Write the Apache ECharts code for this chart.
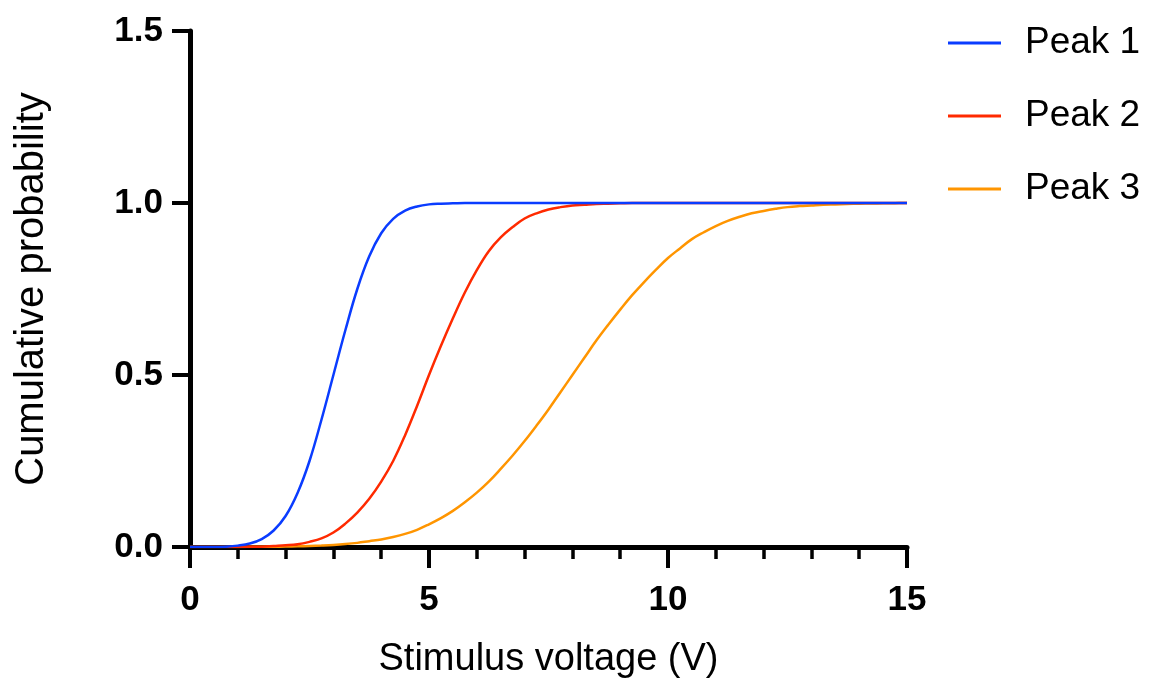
<!DOCTYPE html>
<html>
<head>
<meta charset="utf-8">
<title>Cumulative probability vs stimulus voltage</title>
<script src="https://cdn.jsdelivr.net/npm/echarts@6/dist/echarts.min.js"></script>
<style>
  html, body { margin: 0; padding: 0; background: #ffffff; }
  #chart { width: 1152px; height: 684px; }
</style>
</head>
<body>
<div id="chart"></div>
<script>
// Stimulus voltage samples (V), shared by all three curves
const volts = [
  0, 0.25, 0.5, 0.75, 1, 1.25, 1.5, 1.75, 2, 2.25, 2.5, 2.75,
  3, 3.25, 3.5, 3.75, 4, 4.25, 4.5, 4.75, 5, 5.25, 5.5, 5.75,
  6, 6.25, 6.5, 6.75, 7, 7.25, 7.5, 7.75, 8, 8.25, 8.5, 8.75,
  9, 9.25, 9.5, 9.75, 10, 10.25, 10.5, 10.75, 11, 11.25, 11.5, 11.75,
  12, 12.25, 12.5, 12.75, 13, 13.25, 13.5, 13.75, 14, 14.25, 14.5, 14.75, 15
];

// Cumulative probability for each peak at the voltages above
const peak1 = [
  0, 0, 0, 0.001, 0.004, 0.01, 0.023, 0.048, 0.09, 0.157, 0.25, 0.37,
  0.5, 0.63, 0.75, 0.845, 0.912, 0.954, 0.978, 0.99, 0.996, 0.998, 0.999, 1,
  1, 1, 1, 1, 1, 1, 1, 1, 1, 1, 1, 1,
  1, 1, 1, 1, 1, 1, 1, 1, 1, 1, 1, 1,
  1, 1, 1, 1, 1, 1, 1, 1, 1, 1, 1, 1, 1
];
const peak2 = [
  0, 0, 0, 0, 0.0003, 0.0006, 0.001, 0.003, 0.005, 0.008, 0.015, 0.025,
  0.042, 0.068, 0.1, 0.14, 0.19, 0.25, 0.325, 0.41, 0.5, 0.585, 0.665, 0.74,
  0.805, 0.86, 0.9, 0.93, 0.955, 0.97, 0.981, 0.988, 0.993, 0.995, 0.997, 0.998,
  0.999, 1, 1, 1, 1, 1, 1, 1, 1, 1, 1, 1,
  1, 1, 1, 1, 1, 1, 1, 1, 1, 1, 1, 1, 1
];
const peak3 = [
  0, 0, 0, 0.0001, 0.0002, 0.0004, 0.0006, 0.0009, 0.0013, 0.002, 0.003, 0.0043,
  0.006, 0.0085, 0.012, 0.017, 0.022, 0.029, 0.038, 0.05, 0.066, 0.084, 0.105, 0.13,
  0.158, 0.19, 0.227, 0.266, 0.308, 0.353, 0.4, 0.45, 0.5, 0.55, 0.6, 0.646,
  0.69, 0.732, 0.77, 0.806, 0.84, 0.868, 0.895, 0.915, 0.933, 0.948, 0.96, 0.97,
  0.977, 0.983, 0.988, 0.991, 0.993, 0.995, 0.996, 0.997, 0.998, 0.9985, 0.999, 0.9995, 1
];

const seriesNames = ['Peak 1', 'Peak 2', 'Peak 3'];
const seriesColors = ['#0a3cff', '#ff2a00', '#ff9500'];
const seriesValues = [peak1, peak2, peak3];

const FONT = '"Liberation Sans", Arial, Helvetica, sans-serif';

const chart = echarts.init(document.getElementById('chart'), null, { renderer: 'canvas' });

const series = seriesNames.map((name, i) => ({
  name: name,
  type: 'line',
  data: volts.map((v, k) => [v, seriesValues[i][k]]),
  showSymbol: false,
  symbol: 'none',
  smooth: 0.4,
  lineStyle: { color: seriesColors[i], width: 2.5 },
  itemStyle: { color: seriesColors[i] },
  z: 3 - i
}));

chart.setOption({
  backgroundColor: '#ffffff',
  animation: false,
  textStyle: { fontFamily: FONT },
  grid: { left: 190, right: 245, top: 31, bottom: 137, containLabel: false },
  legend: {
    orient: 'vertical',
    left: 943,
    top: 18,
    icon: 'rect',
    itemWidth: 53,
    itemHeight: 3,
    itemGap: 33,
    data: seriesNames,
    textStyle: {
      fontFamily: FONT,
      fontSize: 37,
      color: '#000000',
      lineHeight: 40,
      padding: [0, 0, 0, 19]
    }
  },
  xAxis: {
    type: 'value',
    min: 0,
    max: 15,
    interval: 5,
    name: 'Stimulus voltage (V)',
    nameLocation: 'middle',
    nameGap: 94,
    nameTextStyle: { fontFamily: FONT, fontSize: 38, color: '#000000' },
    axisLine: { show: true, onZero: false, lineStyle: { color: '#000000', width: 5 } },
    axisTick: { show: true, length: 21, lineStyle: { color: '#000000', width: 4 } },
    minorTick: { show: true, splitNumber: 5, length: 12, lineStyle: { color: '#000000', width: 3.5 } },
    axisLabel: { fontFamily: FONT, fontSize: 35, fontWeight: 'bold', color: '#000000', margin: 36 },
    splitLine: { show: false },
    minorSplitLine: { show: false }
  },
  yAxis: {
    type: 'value',
    min: 0,
    max: 1.5,
    interval: 0.5,
    name: 'Cumulative probability',
    nameLocation: 'middle',
    nameRotate: 90,
    nameGap: 138,
    nameTextStyle: { fontFamily: FONT, fontSize: 40, color: '#000000' },
    axisLine: { show: true, onZero: false, lineStyle: { color: '#000000', width: 5 } },
    axisTick: { show: true, length: 18, lineStyle: { color: '#000000', width: 4 } },
    axisLabel: {
      fontFamily: FONT, fontSize: 35, fontWeight: 'bold', color: '#000000', margin: 27,
      formatter: v => v.toFixed(1)
    },
    splitLine: { show: false }
  },
  series: series
});
</script>
</body>
</html>
